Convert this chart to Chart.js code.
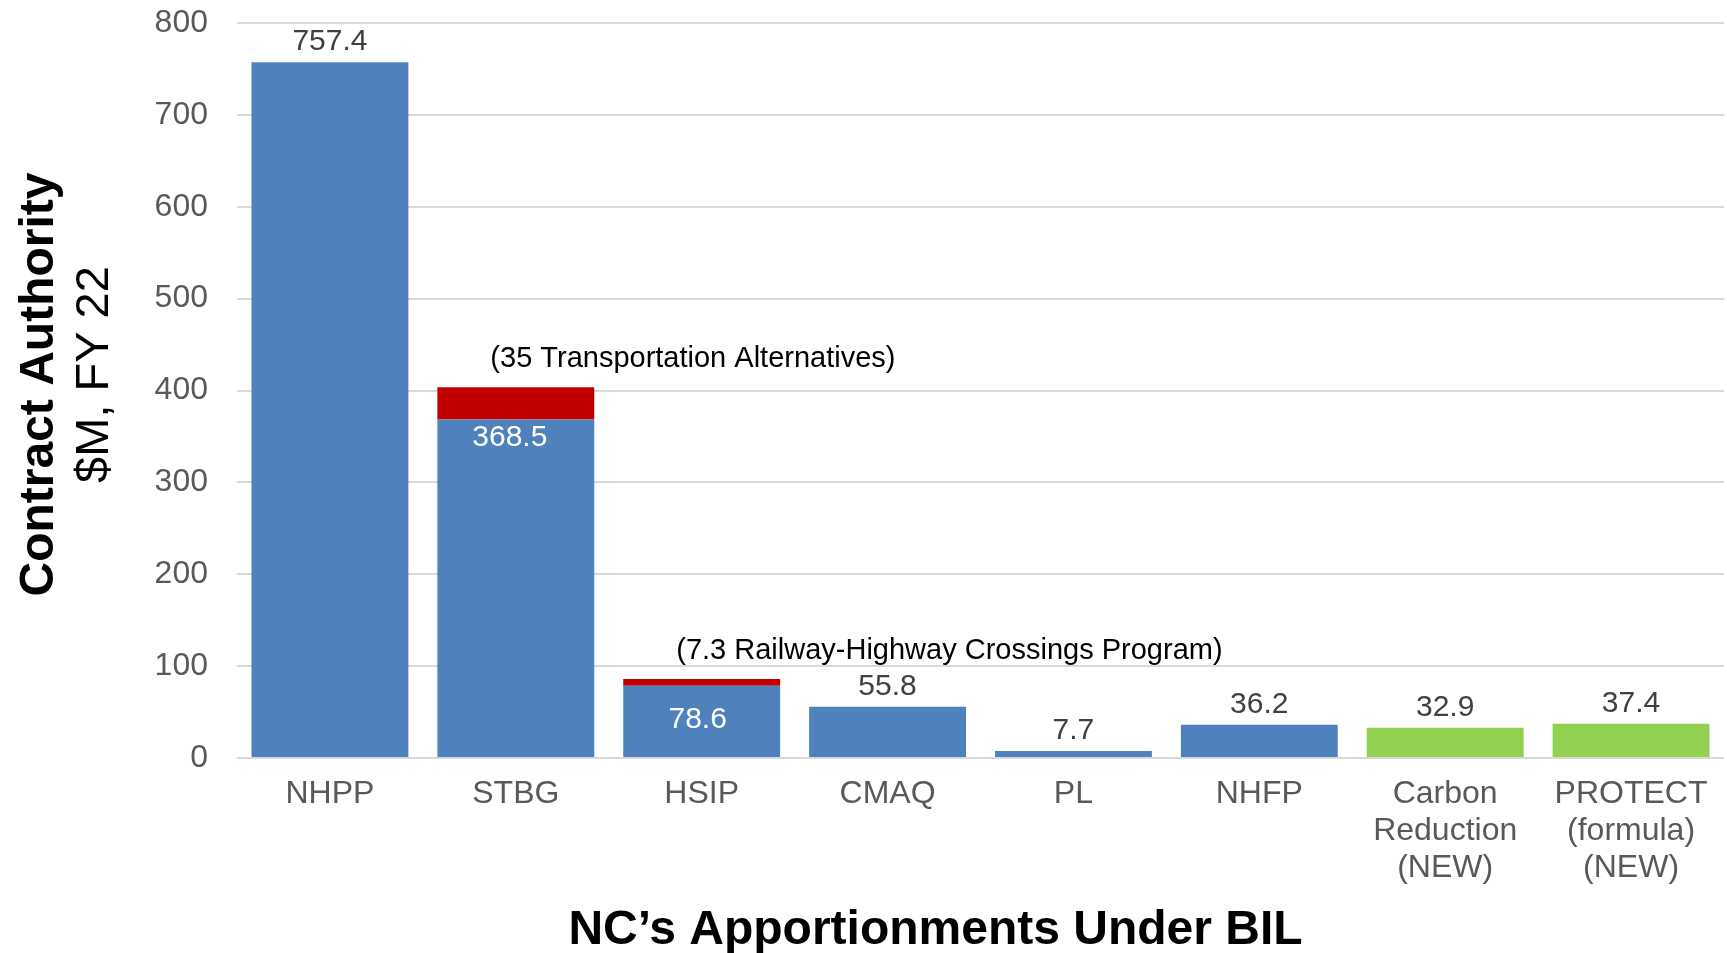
<!DOCTYPE html>
<html>
<head>
<meta charset="utf-8">
<script src="https://cdn.jsdelivr.net/npm/chart.js@4/dist/chart.umd.min.js"></script>
<style>
  html, body { margin: 0; padding: 0; background: #ffffff; }
  #wrap { width: 1727px; height: 953px; position: relative; }
</style>
</head>
<body>
<div id="wrap"><canvas id="c"></canvas></div>
<script>
// ---- data ----
const categories = ['NHPP', 'STBG', 'HSIP', 'CMAQ', 'PL', 'NHFP',
  ['Carbon', 'Reduction', '(NEW)'], ['PROTECT', '(formula)', '(NEW)']];
const baseValues = [757.4, 368.5, 78.6, 55.8, 7.7, 36.2, 32.9, 37.4];
const setAsideValues = [0, 35, 7.3, 0, 0, 0, 0, 0];
const setAsideNotes = ['', '(35 Transportation Alternatives)', '(7.3 Railway-Highway Crossings Program)', '', '', '', '', ''];
const isNewProgram = [false, false, false, false, false, false, true, true];
const labelAnchor = ['end', 'insideEnd', 'center', 'end', 'end', 'end', 'end', 'end'];
const yTicks = [0, 100, 200, 300, 400, 500, 600, 700, 800];
const yTitleLines = ['Contract Authority', '$M, FY 22'];
const xTitle = 'NC\u2019s Apportionments Under BIL';

// ---- styles ----
const FONT = '"Liberation Sans", Arial, sans-serif';
const BLUE = '#4F81BD', GREEN = '#92D050', RED = '#C00000';

const labelPlugin = {
  id: 'customLabels',
  afterDatasetsDraw(chart) {
    const ctx = chart.ctx;
    const base = chart.getDatasetMeta(0).data;
    const top = chart.getDatasetMeta(1).data;
    ctx.save();
    ctx.textAlign = 'center';
    ctx.textBaseline = 'alphabetic';
    base.forEach((bar, i) => {
      const txt = baseValues[i].toFixed(1);
      const stackTop = setAsideValues[i] ? top[i].y : bar.y;
      const a = labelAnchor[i];
      ctx.font = '30px ' + FONT;
      if (a === 'end') {
        ctx.fillStyle = '#404040';
        ctx.fillText(txt, bar.x, stackTop - 12);
      } else if (a === 'insideEnd') {
        ctx.fillStyle = '#FFFFFF';
        ctx.fillText(txt, bar.x - 6, bar.y + 27);
      } else {
        ctx.fillStyle = '#FFFFFF';
        ctx.fillText(txt, bar.x - 4, (bar.y + bar.base) / 2 + 7);
      }
      if (setAsideNotes[i]) {
        ctx.font = '29px ' + FONT;
        ctx.fillStyle = '#000000';
        ctx.textAlign = 'left';
        ctx.fillText(setAsideNotes[i], bar.x - bar.width / 2 + 53, stackTop - 20);
        ctx.textAlign = 'center';
      }
    });
    ctx.restore();
  },
  afterDraw(chart) {
    const ctx = chart.ctx;
    const ca = chart.chartArea;
    ctx.save();
    ctx.fillStyle = '#000000';
    ctx.textAlign = 'center';
    ctx.textBaseline = 'alphabetic';
    // y-axis title (two lines, rotated)
    const cy = (ca.top + ca.bottom) / 2;
    ctx.save();
    ctx.translate(53, cy - 6);
    ctx.rotate(-Math.PI / 2);
    ctx.font = 'bold 48px ' + FONT;
    ctx.fillText(yTitleLines[0], 0, 0);
    ctx.restore();
    ctx.save();
    ctx.translate(108, cy - 16);
    ctx.rotate(-Math.PI / 2);
    ctx.font = '47px ' + FONT;
    ctx.fillText(yTitleLines[1], 0, 0);
    ctx.restore();
    // x-axis title
    ctx.font = 'bold 48px ' + FONT;
    ctx.fillText(xTitle, (ca.left + ca.right) / 2 - 45, chart.height - 9);
    ctx.restore();
  }
};

new Chart(document.getElementById('c'), {
  type: 'bar',
  data: {
    labels: categories,
    datasets: [
      {
        label: 'Apportionment',
        data: baseValues,
        backgroundColor: isNewProgram.map(n => n ? GREEN : BLUE),
        categoryPercentage: 1.0,
        barPercentage: 0.844
      },
      {
        label: 'Set-aside',
        data: setAsideValues,
        backgroundColor: RED,
        categoryPercentage: 1.0,
        barPercentage: 0.844
      }
    ]
  },
  options: {
    responsive: true,
    maintainAspectRatio: false,
    animation: false,
    layout: { padding: { left: 150, right: 3, top: 23, bottom: 67 } },
    plugins: {
      legend: { display: false },
      tooltip: { enabled: false },
      title: { display: false }
    },
    scales: {
      x: {
        stacked: true,
        grid: { display: false, drawTicks: false },
        border: { display: false },
        afterFit(scale) { scale.height = 128; scale.paddingLeft = 0; scale.paddingRight = 0; },
        ticks: {
          color: '#595959',
          font: { family: FONT, size: 32, lineHeight: 1.15 },
          padding: 18,
          maxRotation: 0,
          autoSkip: false
        }
      },
      y: {
        stacked: true,
        min: 0,
        max: 800,
        afterBuildTicks(scale) { scale.ticks = yTicks.map(v => ({ value: v })); },
        afterFit(scale) { scale.width = 87; scale.paddingTop = 0; scale.paddingBottom = 0; },
        grid: { color: '#D9D9D9', lineWidth: 2, drawTicks: false },
        border: { display: false },
        ticks: {
          color: '#595959',
          font: { family: FONT, size: 32 },
          padding: 29
        }
      }
    }
  },
  plugins: [labelPlugin]
});
</script>
</body>
</html>
